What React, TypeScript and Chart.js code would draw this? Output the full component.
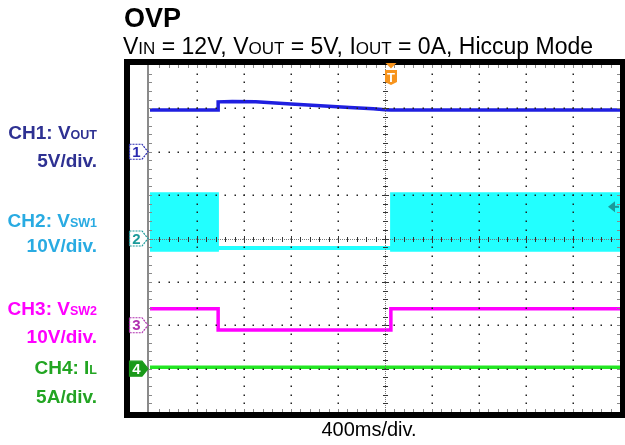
import React, { useEffect, useRef } from 'react';
import { Chart, registerables } from 'chart.js';

Chart.register(...registerables);

// ---- data (time in ms relative to trigger, 400 ms/div, 10 divisions) ----
const timeMinMs = -2000;
const timeMaxMs = 2000;
const timePerDivMs = 400;
const divRange = [-4, 4];

const ch1TimeMs = [-2000, -1420, -1420, -1300, -1100, -800, -550, -300, -100, 0, 50, 2000];
const ch1Volts = [4.8, 4.8, 5.75, 5.8, 5.75, 5.5, 5.3, 5.1, 4.95, 4.85, 4.8, 4.8];

const ch2TimeMs = [-2000, -1420, -1420, 50, 50, 2000];
const ch2UpperVolts = [10.5, 10.5, -1.9, -1.9, 10.5, 10.5];
const ch2LowerVolts = [-2.9, -2.9, -2.5, -2.5, -2.9, -2.9];

const ch3TimeMs = [-2000, -1420, -1420, 50, 50, 2000];
const ch3Volts = [3.8, 3.8, -1.1, -1.1, 3.8, 3.8];

const ch4TimeMs = [-2000, 2000];
const ch4Amps = [0.15, 0.15];

const channelNames = ['CH1', 'CH2', 'CH3', 'CH4'];
const channelSymbols = ['V', 'V', 'V', 'I'];
const channelSubscripts = ['OUT', 'SW1', 'SW2', 'L'];
const channelScaleLabels = ['5V/div.', '10V/div.', '10V/div.', '5A/div.'];
const channelUnitsPerDiv = [5, 10, 10, 5];
const channelOffsetDiv = [2, 0, -2, -3];
const triggerLevelVolts = 7.3; // on CH2

const titleText = 'OVP';
const subtitleParts: [string, boolean][] = [
  ['V', false], ['IN', true], [' = 12V, V', false], ['OUT', true],
  [' = 5V, I', false], ['OUT', true], [' = 0A, Hiccup Mode', false],
];
const xAxisLabel = '400ms/div.';

// ---- styling ----
const FONT = '"Liberation Sans", Arial, Helvetica, sans-serif';
const labelColors = ['#2E3192', '#29ABE2', '#FF00FF', '#22A522'];
const traceColors = ['#1F1FE0', '#22FFFF', '#FF00FF', '#22E622'];
const markerColors = ['#2A2AB0', '#1A9A9A', '#B030B0', '#1A9A1A'];
const labelBaselines = [[139, 167], [227, 252], [315, 343], [374, 403]];

const toDiv = (v: number, ch: number) => channelOffsetDiv[ch] + v / channelUnitsPerDiv[ch];
const pts = (t: number[], v: number[], ch: number) => t.map((x, i) => ({ x, y: toDiv(v[i], ch) }));

const scopePlugin = {
  id: 'scopeDecor',
  beforeDraw(chart: any) {
    const ctx = chart.ctx;
    const { right, top, bottom } = chart.chartArea;
    ctx.save();
    ctx.fillStyle = '#000';
    ctx.fillRect(124, top - 6, 625 - 124, bottom - top + 12);
    ctx.fillStyle = '#fff';
    ctx.fillRect(130, top, right - 130, bottom - top);
    ctx.restore();
  },
  afterDatasetsDraw(chart: any) {
    const ctx = chart.ctx;
    const { left, right, top, bottom } = chart.chartArea;
    const xs = chart.scales.x;
    const ys = chart.scales.y;
    ctx.save();
    // left gray border
    ctx.fillStyle = '#8a8a8a';
    ctx.fillRect(left - 3, top, 2, bottom - top);
    // edge ticks
    for (let j = 1; j < 40; j++) {
      const y = Math.round(ys.getPixelForValue(divRange[0] + j * 0.2));
      ctx.fillStyle = '#8a8a8a';
      ctx.fillRect(left - 1, y, 3, 1);
      ctx.fillRect(right - 3, y, 3, 1);
    }
    for (let k = 1; k < 50; k++) {
      const x = Math.round(xs.getPixelForValue(timeMinMs + k * timePerDivMs / 5));
      ctx.fillStyle = '#8a8a8a';
      ctx.fillRect(x, top, 1, 3);
      ctx.fillRect(x, bottom - 3, 1, 3);
    }
    // major dotted grid
    ctx.fillStyle = '#222';
    for (let k = 1; k < 10; k++) {
      if (k === 5) continue;
      const x = Math.round(xs.getPixelForValue(timeMinMs + k * timePerDivMs));
      for (let j = 1; j < 40; j++) {
        const y = Math.round(ys.getPixelForValue(divRange[0] + j * 0.2));
        ctx.fillRect(x - 0.5, y - 0.5, 1.5, 1.5);
      }
    }
    for (let j = 1; j < 8; j++) {
      if (j === 4) continue;
      const y = Math.round(ys.getPixelForValue(divRange[0] + j));
      for (let k = 1; k < 50; k++) {
        const x = Math.round(xs.getPixelForValue(timeMinMs + k * timePerDivMs / 5));
        ctx.fillRect(x - 0.5, y - 0.5, 1.5, 1.5);
      }
    }
    // centre crosshair
    const cx = Math.round(xs.getPixelForValue(0));
    const cy = Math.round(ys.getPixelForValue(0));
    ctx.fillStyle = '#777';
    for (let x = left; x < right; x += 2) ctx.fillRect(x, cy, 1, 1);
    for (let y = top; y < bottom; y += 2) ctx.fillRect(cx, y, 1, 1);
    ctx.fillStyle = '#333';
    for (let k = 1; k < 50; k++) {
      const x = Math.round(xs.getPixelForValue(timeMinMs + k * timePerDivMs / 5));
      const big = k % 5 === 0;
      ctx.fillRect(x, cy - (big ? 3 : 2), 1, big ? 7 : 5);
    }
    for (let j = 1; j < 40; j++) {
      const y = Math.round(ys.getPixelForValue(divRange[0] + j * 0.2));
      const big = j % 5 === 0;
      ctx.fillRect(cx - (big ? 3 : 2), y, big ? 7 : 5, 1);
    }
    // channel markers
    for (let ch = 0; ch < 4; ch++) {
      const yp = ys.getPixelForValue(channelOffsetDiv[ch]);
      const x0 = 129.5, x1 = 142, tip = left - 2, h = 7.5;
      ctx.beginPath();
      ctx.moveTo(x0, yp - h); ctx.lineTo(x1, yp - h); ctx.lineTo(tip, yp);
      ctx.lineTo(x1, yp + h); ctx.lineTo(x0, yp + h); ctx.closePath();
      const filled = ch === 3;
      ctx.fillStyle = filled ? markerColors[ch] : '#fff';
      ctx.fill();
      ctx.setLineDash(filled ? [] : [2, 1]);
      ctx.strokeStyle = markerColors[ch];
      ctx.lineWidth = 1.2;
      ctx.stroke();
      ctx.setLineDash([]);
      ctx.fillStyle = filled ? '#fff' : markerColors[ch];
      ctx.font = `bold 15px ${FONT}`;
      ctx.textAlign = 'center';
      ctx.textBaseline = 'middle';
      ctx.fillText(String(ch + 1), 136.5, yp + 1);
    }
    // trigger level arrow (right)
    const ty = ys.getPixelForValue(toDiv(triggerLevelVolts, 1));
    ctx.fillStyle = '#1A9A9A';
    ctx.beginPath();
    ctx.moveTo(right - 12, ty); ctx.lineTo(right - 5, ty - 5.5); ctx.lineTo(right - 5, ty + 5.5); ctx.closePath();
    ctx.fill();
    ctx.fillRect(right - 6, ty - 1, 5, 2);
    // trigger position marker
    const tx = cx + 6;
    ctx.fillStyle = '#F7941D';
    ctx.beginPath();
    ctx.moveTo(tx - 5.5, top - 2); ctx.lineTo(tx + 5.5, top - 2); ctx.lineTo(tx, top + 3.5); ctx.closePath();
    ctx.fill();
    ctx.beginPath();
    ctx.moveTo(tx - 6, top + 5); ctx.lineTo(tx + 6, top + 5); ctx.lineTo(tx + 6, top + 17);
    ctx.lineTo(tx, top + 20); ctx.lineTo(tx - 6, top + 17); ctx.closePath();
    ctx.fill();
    ctx.fillStyle = '#fff';
    ctx.font = `bold 13px ${FONT}`;
    ctx.textAlign = 'center';
    ctx.textBaseline = 'alphabetic';
    ctx.fillText('T', tx, top + 16.5);
    ctx.restore();
  },
  afterDraw(chart: any) {
    const ctx = chart.ctx;
    ctx.save();
    ctx.textBaseline = 'alphabetic';
    // title
    ctx.fillStyle = '#000';
    ctx.textAlign = 'left';
    ctx.font = `bold 27px ${FONT}`;
    ctx.fillText(titleText, 124, 27);
    // subtitle
    let x = 123;
    for (const [s, sub] of subtitleParts) {
      ctx.font = `${sub ? 17 : 23}px ${FONT}`;
      ctx.fillText(s, x, 54);
      x += ctx.measureText(s).width;
    }
    // x label
    ctx.textAlign = 'center';
    ctx.font = `20px ${FONT}`;
    ctx.fillText(xAxisLabel, 369, 436);
    // channel labels
    const rx = 97;
    for (let ch = 0; ch < 4; ch++) {
      ctx.fillStyle = labelColors[ch];
      ctx.font = `bold 12.5px ${FONT}`;
      const sw = ctx.measureText(channelSubscripts[ch]).width;
      ctx.textAlign = 'left';
      ctx.fillText(channelSubscripts[ch], rx - sw, labelBaselines[ch][0]);
      ctx.font = `bold 19px ${FONT}`;
      ctx.textAlign = 'right';
      ctx.fillText(`${channelNames[ch]}: ${channelSymbols[ch]}`, rx - sw, labelBaselines[ch][0]);
      ctx.fillText(channelScaleLabels[ch], rx, labelBaselines[ch][1]);
    }
    ctx.restore();
  },
};

export default function App() {
  const canvasRef = useRef<HTMLCanvasElement | null>(null);
  useEffect(() => {
    if (!canvasRef.current) return;
    const lineDs = (label: string, data: any[], color: string, width: number, extra: any = {}) => ({
      label, data, borderColor: color, backgroundColor: color, borderWidth: width,
      pointRadius: 0, tension: 0, fill: false, ...extra,
    });
    const chart = new Chart(canvasRef.current, {
      type: 'line',
      data: {
        datasets: [
          lineDs('CH1 VOUT', pts(ch1TimeMs, ch1Volts, 0), traceColors[0], 3.5),
          lineDs('CH2 VSW1 upper', pts(ch2TimeMs, ch2UpperVolts, 1), traceColors[1], 1.5, { fill: '+1' }),
          lineDs('CH2 VSW1 lower', pts(ch2TimeMs, ch2LowerVolts, 1), traceColors[1], 1.5),
          lineDs('CH3 VSW2', pts(ch3TimeMs, ch3Volts, 2), traceColors[2], 3.5),
          lineDs('CH4 IL', pts(ch4TimeMs, ch4Amps, 3), traceColors[3], 3.5),
        ],
      },
      options: {
        animation: false,
        responsive: false,
        devicePixelRatio: 1,
        layout: { padding: { left: 150, right: 5, top: 65, bottom: 33 } },
        scales: {
          x: { type: 'linear', min: timeMinMs, max: timeMaxMs, display: false },
          y: { type: 'linear', min: divRange[0], max: divRange[1], display: false },
        },
        plugins: { legend: { display: false }, tooltip: { enabled: false }, title: { display: false } },
      },
      plugins: [scopePlugin],
    });
    return () => chart.destroy();
  }, []);
  return (
    <div style={{ position: 'fixed', left: 0, top: 0, width: 625, height: 445, background: '#fff' }}>
      <canvas ref={canvasRef} width={625} height={445} />
    </div>
  );
}
